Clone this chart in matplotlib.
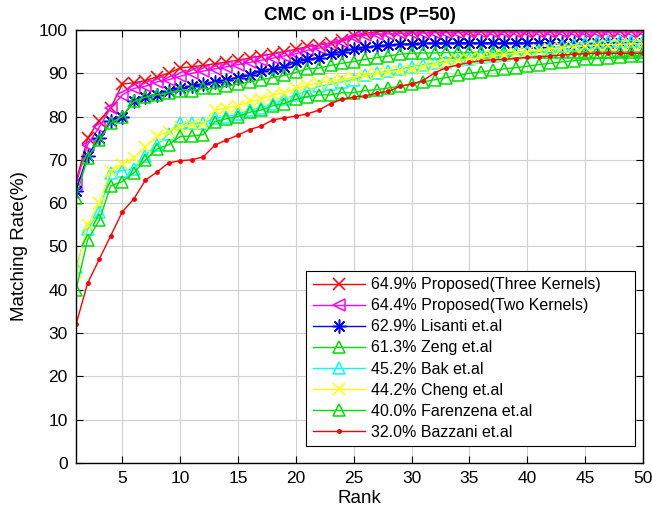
import numpy as np
import matplotlib
matplotlib.use('Agg')
import matplotlib.pyplot as plt

plt.rcParams['font.family'] = ['Liberation Sans', 'DejaVu Sans']

# Data
rank = np.arange(1, 51)

three_kernels = [64.9, 75, 79, 82, 87.5, 87.8, 88.3, 89.2, 90, 91.2, 91.5, 91.8, 92.2, 92.6, 93, 93.5, 94, 94.5, 95, 95.5,
                 96.2, 96.5, 97, 97.6, 98.6, 99.2, 99.6, 99.7, 99.8, 99.8, 99.8, 99.8, 99.8, 99.8, 99.8, 99.8, 99.8, 99.8, 99.8, 99.8,
                 99.8, 99.8, 99.8, 99.8, 99.8, 99.8, 99.8, 99.8, 99.8, 99.8]
two_kernels = [64.4, 73.5, 77.5, 82, 85, 86.5, 87, 88, 88.5, 89.3, 90, 90.5, 91, 91.5, 92, 92.5, 93, 93.5, 94, 94.5,
               95.3, 95.8, 96.5, 97.3, 98.4, 98.8, 99, 99.1, 99.2, 99.3, 99.3, 99.4, 99.4, 99.4, 99.5, 99.5, 99.5, 99.5, 99.5, 99.5,
               99.5, 99.5, 99.5, 99.5, 99.5, 99.5, 99.5, 99.5, 99.5, 99.5]
lisanti = [62.9, 71, 75, 79, 80, 83.5, 84.5, 85, 85.8, 86.5, 87, 87.5, 88, 88.5, 89, 89.5, 90.5, 91, 91.5, 92.5,
           93.2, 93.6, 94.5, 95, 95.6, 96, 96.3, 96.5, 96.7, 96.8, 96.9, 97, 97, 97, 97, 97, 97, 97, 97, 97,
           97, 97, 97, 97, 97, 97, 97, 97, 97, 97]
zeng = [61.3, 70.5, 74.5, 78.5, 80, 83.5, 84.5, 85, 85.5, 86, 86, 86.5, 86.5, 87, 87.5, 88, 88.5, 89, 89.5, 90.2,
        91, 91.2, 91.8, 92.3, 92.7, 93.2, 93.6, 94, 94.4, 94.6, 94.7, 94.7, 94.8, 94.8, 94.8, 94.8, 94.8, 94.8, 94.8, 94.8,
        94.8, 94.8, 94.8, 94.9, 94.9, 94.9, 94.9, 94.9, 94.9, 94.9]
bak = [45.2, 54, 58, 67, 67.5, 68, 71, 73.5, 76, 78.5, 78.5, 78.5, 79.7, 80, 80.5, 81.5, 82, 83, 84, 85,
       86, 87, 87.5, 88, 88.5, 89.5, 90, 90.5, 91, 91.5, 92, 92.3, 92.7, 93, 93.3, 93.7, 94, 94.3, 94.7, 95,
       95.4, 95.8, 96.2, 96.6, 97, 97.2, 97.4, 97.5, 97.5, 97.5]
cheng = [44.2, 55, 60, 67.5, 69, 70.5, 73, 75.5, 76.5, 77.7, 78, 78.2, 81.5, 82, 82.5, 83.5, 84, 85, 85.5, 86.5,
         87.2, 87.8, 88.2, 88.6, 89, 89.5, 90, 90.3, 90.6, 91, 91.5, 92, 92.5, 93, 93.3, 93.7, 94, 94.3, 94.7, 95,
         95.3, 95.6, 95.9, 96.1, 96.3, 96.5, 96.6, 96.7, 96.8, 96.8]
farenzena = [40.0, 51.5, 56, 64, 65, 67, 70, 72.5, 73.5, 75.4, 75.5, 75.8, 78.8, 79.5, 80, 81, 81.5, 82.5, 83, 84,
             84.6, 85, 85, 85.5, 85.5, 86, 86.2, 86.6, 87, 87.5, 88, 88.5, 89, 89.5, 90, 90.3, 90.7, 91, 91.3, 91.6,
             92, 92.3, 92.6, 92.9, 93.2, 93.4, 93.6, 93.8, 94, 94]
bazzani = [32.0, 41.5, 47, 52.5, 58, 61, 65.3, 67.2, 69.3, 69.8, 70, 70.7, 73.4, 74.6, 75.7, 77, 77.8, 79.2, 79.7, 80.1,
           80.6, 81.5, 83, 84, 84.5, 84.8, 85.4, 85.8, 87, 87.5, 88.3, 90.1, 91.3, 91.9, 92.5, 92.9, 93.1, 93.2, 93.4, 93.7,
           93.8, 94, 94.2, 94.4, 94.5, 94.6, 94.6, 94.6, 94.6, 94.6]

labels = ['64.9% Proposed(Three Kernels)', '64.4% Proposed(Two Kernels)', '62.9% Lisanti et.al',
          '61.3% Zeng et.al', '45.2% Bak et.al', '44.2% Cheng et.al', '40.0% Farenzena et.al',
          '32.0% Bazzani et.al']

fig = plt.figure(figsize=(6.52, 5.18), dpi=100)
ax = fig.add_axes([0.1166, 0.1062, 0.8696, 0.836])

green = '#00e000'
asterisk = (8, 2, 0)
ax.plot(rank, three_kernels, '-x', color='#ff0000', ms=8, mew=1.1, lw=1, label=labels[0])
ax.plot(rank, two_kernels, '-<', color='#ff00ff', ms=9, mew=1.1, mfc='none', lw=1, label=labels[1])
ax.plot(rank, lisanti, '-', marker=asterisk, color='#0000ff', ms=10, mew=1.1, lw=1, label=labels[2])
ax.plot(rank, zeng, '-^', color=green, ms=9, mew=1.1, mfc='none', lw=1, label=labels[3])
ax.plot(rank, bak, '-^', color='#00ffff', ms=9, mew=1.1, mfc='none', lw=1, label=labels[4])
ax.plot(rank, cheng, '-x', color='#ffff00', ms=8, mew=1.1, lw=1, label=labels[5])
ax.plot(rank, farenzena, '-^', color=green, ms=9, mew=1.1, mfc='none', lw=1, label=labels[6])
ax.plot(rank, bazzani, '-', marker='.', color='#ff0000', ms=5, lw=1, label=labels[7])

ax.set_xlim(1, 50)
ax.set_ylim(0, 100)
ax.set_xticks(np.arange(5, 51, 5))
ax.set_yticks(np.arange(0, 101, 10))
ax.grid(True, color='#d0d0d0', lw=0.8)
ax.set_axisbelow(True)
ax.tick_params(direction='in', top=True, right=True, labelsize=12.5, length=5, pad=6)
for s in ax.spines.values():
    s.set_linewidth(1.0)

ax.set_title('CMC on i-LIDS (P=50)', fontsize=13.5, fontweight='bold', pad=7)
ax.set_xlabel('Rank', fontsize=13.5, labelpad=3)
ax.set_ylabel('Matching Rate(%)', fontsize=13.5, labelpad=8)

# MATLAB-style legend box: wide, with empty space right of the text
leg = ax.legend(loc='lower left', bbox_to_anchor=(0.406, 0.039, 0.58, 0.3), mode='expand',
                fontsize=11.5, labelspacing=0.38, handlelength=3.3, handletextpad=0.35,
                fancybox=False, framealpha=1, edgecolor='black', borderpad=0.4, borderaxespad=0)
leg.get_frame().set_linewidth(0.8)

fig.savefig('out.png', dpi=100)
